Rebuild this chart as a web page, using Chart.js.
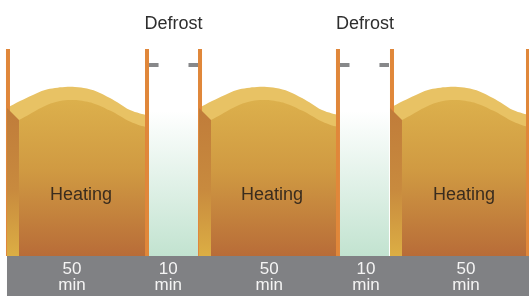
<!DOCTYPE html>
<html>
<head>
<meta charset="utf-8">
<script src="https://cdn.jsdelivr.net/npm/chart.js@4.4.1/dist/chart.umd.min.js"></script>
<style>
  html, body { margin: 0; padding: 0; background: #fff; }
  #wrap { width: 529px; height: 296px; }
</style>
</head>
<body>
<div id="wrap"><canvas id="cycle"></canvas></div>
<script>
// ---- data (schematic axis: 0..100 across the timeline, level 0..100) ----
const phases = ["Heating", "Defrost", "Heating", "Defrost", "Heating"];
const minutes = [50, 10, 50, 10, 50];
const phaseTickX = [13.6, 31.8, 50.9, 69.2, 88.1];
const phaseLabelX = [15.3, 32.8, 51.4, 69.0, 87.7];

const heatingStarts = [1.32, 37.62, 73.72];
const defrostSpans = [[28.17, 37.43], [64.27, 73.53]];
const wallX = [1.51, 27.79, 37.81, 63.89, 74.10, 99.81];
const wallTop = 80.9;
const dashLevel = 74.6;
const dashLen = 1.8;
const bandStart = 1.32;

// wave of one heating block (offsets from block start)
const waveX = [0, 2.46, 4.91, 7.18, 9.07, 10.96, 12.85, 15.12, 17.58, 19.47, 21.36, 23.25, 25.14, 26.47];
const topFace = [57.8, 60.5, 62.9, 64.8, 65.6, 66.0, 66.0, 65.4, 63.7, 61.7, 59.4, 57.0, 55.7, 55.1];
const frontX = [2.27, 4.35, 7.18, 10.02, 11.91, 13.80, 16.64, 19.47, 21.36, 23.25, 25.14, 26.47];
const frontFace = [53.1, 55.5, 58.6, 60.5, 60.9, 60.7, 59.4, 56.8, 54.7, 52.5, 51.0, 50.4];

const headingLevel = 88.7;
const heatingTextLevel = 21.9;

// ---- helpers ----
function vGrad(chart, fromLevel, stops) {
  const { ctx, chartArea, scales } = chart;
  if (!chartArea) return stops[0][1];
  const g = ctx.createLinearGradient(0, scales.y.getPixelForValue(fromLevel), 0, chartArea.bottom);
  stops.forEach(([o, c]) => g.addColorStop(o, c));
  return g;
}

const line = (data, extra) => Object.assign({
  data, showLine: true, pointRadius: 0, borderWidth: 0, tension: 0
}, extra);

const datasets = [];

// defrost zones
defrostSpans.forEach(([a, b]) => {
  datasets.push(line([{ x: a, y: wallTop }, { x: b, y: wallTop }], {
    fill: "origin", order: 6,
    backgroundColor: c => vGrad(c.chart, wallTop, [[0, "#ffffff"], [0.3, "#ffffff"], [1, "#c2e3d0"]])
  }));
});

// heating blocks
heatingStarts.forEach(s => {
  datasets.push(line(waveX.map((x, i) => ({ x: s + x, y: topFace[i] })), {
    fill: "origin", order: 5, tension: 0.4, backgroundColor: "#e8c264"
  }));
  datasets.push(line(frontX.map((x, i) => ({ x: s + x, y: frontFace[i] })), {
    fill: "origin", order: 4, tension: 0.4,
    backgroundColor: c => vGrad(c.chart, 61, [[0, "#dcb04c"], [0.45, "#d09a42"], [1, "#b86c38"]])
  }));
  datasets.push(line([{ x: s + waveX[0], y: topFace[0] }, { x: s + frontX[0], y: frontFace[0] }], {
    fill: "origin", order: 2,
    backgroundColor: c => vGrad(c.chart, 58, [[0, "#c07c3a"], [0.55, "#c88a3e"], [1, "#dcae44"]])
  }));
});

// orange walls
wallX.forEach(x => {
  datasets.push(line([{ x, y: 0 }, { x, y: wallTop }], {
    borderWidth: 4, borderColor: "#e0873a", order: 3
  }));
});

// grey markers inside the defrost walls
defrostSpans.forEach(([a, b]) => {
  datasets.push(line([{ x: a, y: dashLevel }, { x: a + dashLen, y: dashLevel }], {
    borderWidth: 4, borderColor: "#87888a", order: 1
  }));
  datasets.push(line([{ x: b - dashLen, y: dashLevel }, { x: b, y: dashLevel }], {
    borderWidth: 4, borderColor: "#87888a", order: 1
  }));
});

// ---- background band + texts ----
const decor = {
  id: "decor",
  beforeDraw(chart) {
    const { ctx, chartArea, scales } = chart;
    ctx.save();
    ctx.fillStyle = "#ffffff";
    ctx.fillRect(0, 0, chart.width, chart.height);
    ctx.fillStyle = "#808184";
    const x0 = scales.x.getPixelForValue(bandStart);
    ctx.fillRect(x0, chartArea.bottom, chart.width - x0, chart.height - chartArea.bottom);
    ctx.restore();
  },
  afterDatasetsDraw(chart) {
    const { ctx, scales } = chart;
    ctx.save();
    ctx.textAlign = "center";
    ctx.textBaseline = "alphabetic";
    ctx.font = "18px 'Liberation Sans', Arial, sans-serif";
    phases.forEach((p, i) => {
      const x = scales.x.getPixelForValue(phaseLabelX[i]);
      if (p === "Heating") {
        ctx.fillStyle = "#3a2c1e";
        ctx.fillText(p, x, scales.y.getPixelForValue(heatingTextLevel));
      } else {
        ctx.fillStyle = "#2e2e2e";
        ctx.fillText(p, x, scales.y.getPixelForValue(headingLevel));
      }
    });
    ctx.restore();
  }
};

new Chart(document.getElementById("cycle"), {
  type: "scatter",
  data: { datasets },
  options: {
    responsive: true,
    maintainAspectRatio: false,
    animation: false,
    layout: { padding: 0 },
    plugins: { legend: { display: false }, tooltip: { enabled: false } },
    scales: {
      x: {
        type: "linear", min: 0, max: 100, position: "bottom",
        grid: { display: false, drawTicks: false },
        border: { display: false },
        afterBuildTicks: axis => { axis.ticks = phaseTickX.map(v => ({ value: v })); },
        afterFit: axis => { axis.height = 40; },
        ticks: {
          autoSkip: false, maxRotation: 0, padding: 6,
          color: "#f4f4f4",
          font: { family: "'Liberation Sans', Arial, sans-serif", size: 17, lineHeight: 0.9 },
          callback: (v, i) => [String(minutes[i]), "min"]
        }
      },
      y: { display: false, min: 0, max: 100 }
    }
  },
  plugins: [decor]
});
</script>
</body>
</html>
